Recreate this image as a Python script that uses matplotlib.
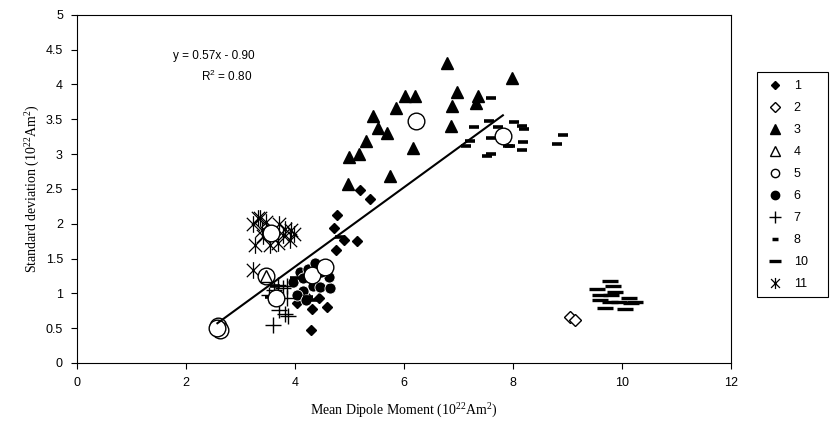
import matplotlib
matplotlib.use("Agg")
import matplotlib.pyplot as plt
from matplotlib.lines import Line2D
from matplotlib.patches import Rectangle
from matplotlib.path import Path
import numpy as np

plt.rcParams['font.family'] = ['Liberation Sans', 'DejaVu Sans']
plt.rcParams['mathtext.fontset'] = 'custom'
plt.rcParams['mathtext.rm'] = 'Liberation Serif'
plt.rcParams['mathtext.sf'] = 'Liberation Sans'

# ---- data ----
x1 = [5.19, 5.39, 4.78, 4.72, 4.90, 5.14, 4.76, 4.04, 4.32, 4.60, 4.30, 4.18, 4.45]
y1 = [2.48, 2.36, 2.13, 1.94, 1.77, 1.75, 1.62, 0.86, 0.78, 0.81, 0.47, 0.98, 0.93]

x2 = [9.06, 9.14]
y2 = [0.66, 0.62]

x3 = [6.79, 7.98, 6.97, 7.36, 6.89, 7.33, 6.86, 6.02, 6.21, 5.86, 5.44, 5.52,
      5.69, 5.31, 5.00, 5.18, 6.17, 4.97, 5.75]
y3 = [4.31, 4.10, 3.89, 3.83, 3.69, 3.74, 3.41, 3.84, 3.83, 3.66, 3.55, 3.37,
      3.30, 3.19, 2.96, 3.00, 3.09, 2.57, 2.68]

x4 = [3.47]
y4 = [1.25]

x5 = [2.60, 2.62, 2.58, 3.47, 3.65, 3.57, 4.32, 4.55, 6.22, 7.82]
y5 = [0.53, 0.48, 0.50, 1.25, 0.93, 1.86, 1.26, 1.38, 3.48, 3.26]

x6 = [3.97, 4.10, 4.15, 4.25, 4.37, 4.15, 4.34, 4.46, 4.64, 4.63, 4.49, 4.05, 4.20, 4.55]
y6 = [1.16, 1.31, 1.22, 1.35, 1.43, 1.03, 1.11, 1.09, 1.08, 1.24, 1.30, 0.98, 0.90, 1.35]

x7 = [3.60, 3.69, 3.85, 3.85, 3.72, 3.82, 3.88, 3.52, 3.62, 3.78]
y7 = [0.55, 1.12, 1.11, 0.93, 0.76, 0.70, 0.67, 0.97, 1.05, 1.08]

x8 = [7.61, 7.29, 7.57, 7.73, 8.02, 8.18, 8.20, 7.21, 7.14, 7.61, 7.91, 7.95,
      8.19, 8.18, 7.52, 7.61, 8.93, 8.81,
      4.24, 4.33, 4.83, 4.00, 3.64, 3.55]
y8 = [3.80, 3.39, 3.48, 3.39, 3.46, 3.40, 3.36, 3.19, 3.11, 3.23, 3.11, 3.12,
      3.18, 3.06, 2.97, 3.00, 3.27, 3.14,
      0.95, 0.90, 1.81, 1.22, 1.10, 0.95]

x10 = [9.78, 9.54, 9.84, 9.87, 9.60, 9.81, 9.60, 9.78, 9.96, 10.13, 10.18, 9.69, 10.06, 10.25]
y10 = [1.18, 1.06, 1.10, 1.02, 0.97, 0.97, 0.90, 0.88, 0.88, 0.93, 0.86, 0.79, 0.77, 0.88]

x11 = [3.33, 3.23, 3.48, 3.27, 3.42, 3.72, 3.82, 3.94, 3.91, 3.69, 3.54, 3.79, 3.23, 3.39, 3.98, 3.36]
y11 = [2.08, 2.00, 2.03, 1.70, 1.82, 2.00, 1.93, 1.91, 1.77, 1.72, 1.70, 1.84, 1.34, 1.91, 1.85, 2.08]

fit_slope = 0.57
fit_intercept = -0.90
eq_text = "y = 0.57x - 0.90"
r2_text = r"$\mathsf{R^2}$ = 0.80"

series_labels = ['1', '2', '3', '4', '5', '6', '7', '8', '10', '11']

# X with a vertical bar marker (Excel-style asterisk)
ast = Path([(0, -1), (0, 1), (-0.8, -0.8), (0.8, 0.8), (-0.8, 0.8), (0.8, -0.8)],
           [Path.MOVETO, Path.LINETO, Path.MOVETO, Path.LINETO, Path.MOVETO, Path.LINETO])

# ---- figure ----
fig = plt.figure(figsize=(8.35, 4.25), dpi=100)
ax = fig.add_axes([0.092, 0.146, 0.783, 0.819])

k = dict(linestyle='none', color='black')
ax.plot(x1, y1, marker='D', ms=5.5, mfc='black', mec='black', **k)
ax.plot(x2, y2, marker='D', ms=6, mfc='white', mec='black', mew=1.0, **k)
ax.plot(x3, y3, marker='^', ms=8.5, mfc='black', mec='black', **k)
ax.plot(x6, y6, marker='o', ms=8, mfc='black', mec='white', mew=0.6, **k)
ax.plot(x7, y7, marker='+', ms=11, mew=1.0, **k)
ax.plot(x8, y8, marker='_', ms=7, mew=2.6, **k)
ax.plot(x10, y10, marker='_', ms=12, mew=2.4, **k)
ax.plot(x11, y11, marker=ast, ms=12, mew=0.9, **k)
ax.plot(x5, y5, marker='o', ms=12, mfc='white', mec='black', mew=1.0, **k)
ax.plot(x4, y4, marker='^', ms=8, mfc='none', mec='black', mew=1.0, **k)

xf = np.array([min(x5), max(x5)])
ax.plot(xf, fit_slope * xf + fit_intercept, color='black', lw=1.5)

ax.text(2.51, 4.41, eq_text, ha='center', va='center', fontsize=8.5)
ax.text(2.75, 4.12, r2_text, ha='center', va='center', fontsize=8.5)

ax.set_xlim(0, 12)
ax.set_ylim(0, 5)
ax.set_xticks(np.arange(0, 13, 2))
ax.set_yticks(np.arange(0, 5.01, 0.5))
ax.set_yticklabels(['0', '0.5', '1', '1.5', '2', '2.5', '3', '3.5', '4', '4.5', '5'])
ax.tick_params(direction='out', length=4, width=0.8, labelsize=9, pad=6)
for s in ax.spines.values():
    s.set_linewidth(0.8)

ax.set_xlabel(r'Mean Dipole Moment ($\mathrm{10^{22}Am^{2}}$)', family='Liberation Serif',
              fontsize=10, labelpad=9)
ax.set_ylabel(r'Standard deviation ($\mathrm{10^{22}Am^{2}}$)', family='Liberation Serif',
              fontsize=10, labelpad=3)

# legend proxies
handles = [
    Line2D([], [], ls='none', marker='D', ms=4, mfc='black', mec='black'),
    Line2D([], [], ls='none', marker='D', ms=5, mfc='white', mec='black'),
    Line2D([], [], ls='none', marker='^', ms=7, mfc='black', mec='black'),
    Line2D([], [], ls='none', marker='^', ms=7, mfc='white', mec='black'),
    Line2D([], [], ls='none', marker='o', ms=6, mfc='white', mec='black'),
    Line2D([], [], ls='none', marker='o', ms=6, mfc='black', mec='black'),
    Line2D([], [], ls='none', marker='+', ms=8, mec='black', mew=1.0),
    Line2D([], [], ls='none', marker='_', ms=5, mec='black', mew=2.5),
    Line2D([], [], ls='none', marker='_', ms=9, mec='black', mew=2.4),
    Line2D([], [], ls='none', marker=ast, ms=8, mec='black', mew=0.9),
]
fig.patches.append(Rectangle((757 / 835, 1 - 297 / 425), 71 / 835, 225 / 425,
                             transform=fig.transFigure, facecolor='white',
                             edgecolor='black', linewidth=0.8, zorder=0))
leg = fig.legend(handles, series_labels, loc='upper left', bbox_to_anchor=(0.919, 0.811),
                 frameon=False, fontsize=9,
                 handlelength=1.2, handletextpad=0.9, labelspacing=0.8,
                 borderpad=0.0, borderaxespad=0)

fig.savefig('out.png', dpi=100)
